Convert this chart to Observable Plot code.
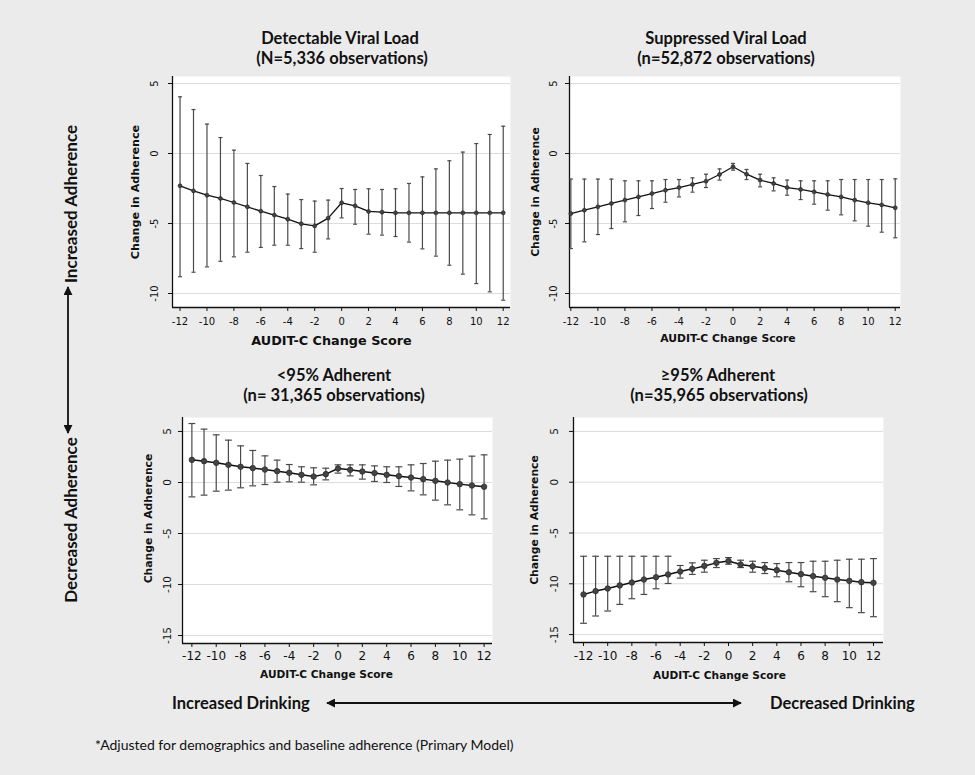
<!DOCTYPE html>
<html><head><meta charset="utf-8">
<script src="https://cdn.jsdelivr.net/npm/d3@7"></script>
<script src="https://cdn.jsdelivr.net/npm/@observablehq/plot@0.6"></script>
<style>
html,body{margin:0;padding:0;}
body{width:975px;height:775px;background:#ebebeb;position:relative;overflow:hidden;font-family:Lato,"Open Sans",sans-serif;color:#111;}
.ttl{position:absolute;transform:translate(-50%,-50%);white-space:nowrap;font-weight:bold;font-size:16.5px;color:#111;line-height:1;}
.rot{position:absolute;transform:translate(-50%,-50%) rotate(-90deg);white-space:nowrap;font-weight:bold;font-size:17px;color:#111;line-height:1;}
.side{position:absolute;transform:translate(0,-50%);white-space:nowrap;font-weight:bold;font-size:16.5px;color:#111;line-height:1;}
.panel{position:absolute;}
.cap{position:absolute;white-space:nowrap;font-size:14px;color:#111;line-height:1;transform:translate(0,-50%);}
</style></head><body>
<script>
// AUDIT-C change score categories
const audit = [-12,-11,-10,-9,-8,-7,-6,-5,-4,-3,-2,-1,0,1,2,3,4,5,6,7,8,9,10,11,12];
const xTickValues = [-12,-10,-8,-6,-4,-2,0,2,4,6,8,10,12];
const yTicksTop = [5,0,-5,-10];
const yTicksBottom = [5,0,-5,-10,-15];

// Detectable Viral Load (N=5,336)
const detMean = [-2.31,-2.67,-2.98,-3.21,-3.50,-3.81,-4.12,-4.40,-4.69,-5.02,-5.17,-4.62,-3.52,-3.74,-4.14,-4.19,-4.24,-4.24,-4.24,-4.24,-4.24,-4.24,-4.24,-4.24,-4.24];
const detHi   = [4.05,3.14,2.10,1.14,0.24,-0.71,-1.57,-2.36,-2.90,-3.29,-3.40,-3.33,-2.50,-2.57,-2.52,-2.57,-2.52,-2.14,-1.67,-1.10,-0.52,0.10,0.71,1.36,1.95];
const detLo   = [-8.80,-8.48,-8.10,-7.70,-7.38,-7.05,-6.71,-6.55,-6.55,-6.79,-7.05,-6.10,-4.60,-5.05,-5.76,-5.83,-5.93,-6.33,-6.81,-7.33,-7.98,-8.62,-9.29,-9.88,-10.48];

// Suppressed Viral Load (n=52,872)
const supMean = [-4.29,-4.05,-3.81,-3.57,-3.33,-3.10,-2.86,-2.62,-2.43,-2.21,-1.98,-1.50,-0.95,-1.48,-1.90,-2.14,-2.43,-2.57,-2.74,-2.93,-3.10,-3.33,-3.52,-3.67,-3.88];
const supHi   = [-1.83,-1.83,-1.83,-1.83,-1.95,-1.95,-1.95,-1.86,-1.86,-1.74,-1.48,-1.10,-0.71,-1.14,-1.48,-1.74,-1.90,-1.95,-1.95,-1.95,-1.86,-1.86,-1.86,-1.86,-1.81];
const supLo   = [-6.79,-6.31,-5.79,-5.36,-4.88,-4.43,-3.93,-3.48,-3.10,-2.76,-2.43,-1.90,-1.19,-1.86,-2.38,-2.67,-2.98,-3.29,-3.62,-4.05,-4.38,-4.81,-5.19,-5.62,-6.02];

// <95% Adherent (n=31,365)
const lowMean = [2.22,2.09,1.93,1.73,1.54,1.41,1.27,1.11,0.95,0.75,0.59,0.82,1.37,1.24,1.08,0.92,0.75,0.62,0.49,0.33,0.16,0.00,-0.16,-0.29,-0.42];
const lowHi   = [5.78,5.23,4.67,4.15,3.59,3.14,2.61,2.19,1.76,1.54,1.44,1.40,1.73,1.73,1.73,1.63,1.54,1.54,1.73,1.86,2.09,2.19,2.29,2.58,2.71];
const lowLo   = [-1.41,-1.24,-0.85,-0.75,-0.52,-0.33,-0.20,0.03,0.07,0.03,-0.23,0.26,0.92,0.65,0.33,0.10,0.00,-0.39,-0.82,-1.21,-1.73,-2.19,-2.68,-3.17,-3.56];

// >=95% Adherent (n=35,965)
const highMean = [-11.05,-10.72,-10.46,-10.16,-9.87,-9.58,-9.35,-9.08,-8.79,-8.53,-8.24,-7.94,-7.75,-8.10,-8.27,-8.46,-8.66,-8.86,-9.05,-9.25,-9.41,-9.58,-9.71,-9.84,-9.90];
const highHi   = [-7.29,-7.29,-7.29,-7.29,-7.29,-7.29,-7.29,-7.29,-8.20,-7.94,-7.68,-7.52,-7.42,-7.68,-7.78,-7.91,-8.01,-7.91,-7.91,-7.78,-7.78,-7.68,-7.58,-7.58,-7.52];
const highLo   = [-13.89,-13.17,-12.68,-12.03,-11.47,-11.05,-10.49,-9.97,-9.44,-9.08,-8.86,-8.40,-8.07,-8.40,-8.86,-8.99,-9.31,-9.80,-10.29,-10.78,-11.27,-11.76,-12.35,-12.84,-13.24];

const titles = [
  ["Detectable Viral Load", "(N=5,336 observations)"],
  ["Suppressed Viral Load", "(n=52,872 observations)"],
  ["<95% Adherent", "(n= 31,365 observations)"],
  ["\u226595% Adherent", "(n=35,965 observations)"]
];
const yLabel = "Change in Adherence";
const xLabel = "AUDIT-C Change Score";
const sideLabels = ["Increased Adherence", "Decreased Adherence"];
const bottomLabels = ["Increased Drinking", "Decreased Drinking"];
const caption = "*Adjusted for demographics and baseline adherence  (Primary Model)";

const TICKFONT = "DejaVu Sans, Verdana, sans-serif";

function makePanel(cfg, mean, lo, hi) {
  const data = audit.map((x, i) => ({x, m: mean[i], lo: lo[i], hi: hi[i]}));
  const chart = Plot.plot({
    width: cfg.width, height: cfg.height,
    marginLeft: cfg.ml, marginTop: cfg.mt, marginRight: cfg.mr, marginBottom: cfg.mb,
    style: {background: "transparent", overflow: "visible", color: "#111"},
    x: {domain: cfg.xdom},
    y: {domain: cfg.ydom},
    marks: [
      Plot.frame({fill: "white", stroke: "none"}),
      Plot.gridY({ticks: cfg.yticks, stroke: "#dcdcdc", strokeOpacity: 1, strokeWidth: 1}),
      Plot.ruleX([cfg.xdom[0]], {stroke: "#111", strokeWidth: 1.3}),
      Plot.ruleY([cfg.ydom[0]], {stroke: "#111", strokeWidth: 1.3}),
      Plot.axisY({ticks: cfg.yticks, tickRotate: -90, tickSize: 4, tickPadding: cfg.ytp,
        tickFormat: d => String(d), label: null, fontSize: cfg.ytf, fontFamily: TICKFONT}),
      Plot.axisX({ticks: xTickValues, tickSize: 4, tickPadding: cfg.xtp,
        tickFormat: d => String(d), label: null, fontSize: cfg.xtf, fontFamily: TICKFONT}),
      Plot.text([yLabel], {frameAnchor: "left", rotate: -90, textAnchor: "middle", lineAnchor: "middle",
        dx: cfg.yldx, dy: cfg.yldy,
        fontWeight: "bold", fontSize: cfg.ylf, fontFamily: TICKFONT, fill: "#111"}),
      Plot.text([xLabel], {frameAnchor: "bottom", textAnchor: "middle", lineAnchor: "middle",
        dx: cfg.xldx, dy: cfg.xldy,
        fontWeight: "bold", fontSize: cfg.xlf, fontFamily: TICKFONT, fill: "#111"}),
      Plot.ruleX(data, {x: "x", y1: "lo", y2: "hi", stroke: "#4a4a4a", strokeWidth: 1.2}),
      Plot.link(data, {x1: d => d.x - cfg.cap, x2: d => d.x + cfg.cap, y1: "hi", y2: "hi", stroke: "#4a4a4a", strokeWidth: 1.2}),
      Plot.link(data, {x1: d => d.x - cfg.cap, x2: d => d.x + cfg.cap, y1: "lo", y2: "lo", stroke: "#4a4a4a", strokeWidth: 1.2}),
      Plot.line(data, {x: "x", y: "m", stroke: "#111", strokeWidth: cfg.lw}),
      Plot.dot(data, {x: "x", y: "m", r: cfg.r, fill: "#444", stroke: "#222", strokeWidth: 0.6})
    ]
  });
  const div = document.createElement("div");
  div.className = "panel";
  div.style.left = cfg.left + "px";
  div.style.top = cfg.top + "px";
  div.appendChild(chart);
  document.body.appendChild(div);
}

const panels = [
  {left: 100, top: 60, width: 430, height: 300, ml: 72, mt: 16, mr: 20, mb: 53,
   xdom: [-12.56, 12.54], ydom: [-11, 5.5], yticks: yTicksTop, ytp: 11, ytf: 10, xtp: 6, xtf: 10,
   yldx: -37, yldy: 0, ylf: 11.2, xldx: -10, xldy: 33, xlf: 12.8, cap: 0.15, r: 2, lw: 1.3},
  {left: 500, top: 60, width: 430, height: 300, ml: 69, mt: 16, mr: 30, mb: 53,
   xdom: [-12.1, 12.39], ydom: [-11, 5.5], yticks: yTicksTop, ytp: 8.5, ytf: 10, xtp: 6, xtf: 10,
   yldx: -34, yldy: 0, ylf: 10.8, xldx: -7, xldy: 31, xlf: 10.8, cap: 0.15, r: 2, lw: 1.3},
  {left: 100, top: 400, width: 430, height: 300, ml: 82, mt: 17, mr: 38, mb: 57,
   xdom: [-12.77, 12.69], ydom: [-15.78, 6.37], yticks: yTicksBottom, ytp: 8, ytf: 10.5, xtp: 4, xtf: 12,
   yldx: -34, yldy: -12, ylf: 10.8, xldx: -11, xldy: 31, xlf: 10.6, cap: 0.28, r: 2.8, lw: 1.5},
  {left: 500, top: 400, width: 430, height: 300, ml: 73, mt: 17, mr: 47, mb: 58,
   xdom: [-12.83, 12.83], ydom: [-15.78, 6.37], yticks: yTicksBottom, ytp: 12, ytf: 10.5, xtp: 4.5, xtf: 12,
   yldx: -39, yldy: -10, ylf: 10.8, xldx: -9, xldy: 33, xlf: 10.6, cap: 0.28, r: 2.8, lw: 1.5}
];

makePanel(panels[0], detMean, detLo, detHi);
makePanel(panels[1], supMean, supLo, supHi);
makePanel(panels[2], lowMean, lowLo, lowHi);
makePanel(panels[3], highMean, highLo, highHi);

// Titles
const titlePos = [[340, 38, 342, 58], [726, 38, 726, 58], [334, 375, 334, 395], [718, 375, 719, 395]];
titles.forEach((t, i) => {
  const p = titlePos[i];
  [0, 1].forEach(k => {
    const d = document.createElement("div");
    d.className = "ttl";
    d.textContent = t[k];
    d.style.left = p[k * 2] + "px";
    d.style.top = p[k * 2 + 1] + "px";
    document.body.appendChild(d);
  });
});

// Side (vertical) labels
[[70, 204], [70, 520]].forEach((p, i) => {
  const d = document.createElement("div");
  d.className = "rot";
  d.textContent = sideLabels[i];
  d.style.left = p[0] + "px";
  d.style.top = p[1] + "px";
  document.body.appendChild(d);
});

// Bottom labels
[[172, 703], [770, 703]].forEach((p, i) => {
  const d = document.createElement("div");
  d.className = "side";
  d.textContent = bottomLabels[i];
  d.style.left = p[0] + "px";
  d.style.top = p[1] + "px";
  document.body.appendChild(d);
});

// Caption
const c = document.createElement("div");
c.className = "cap";
c.textContent = caption;
c.style.left = "95px";
c.style.top = "745px";
document.body.appendChild(c);

// Double-headed arrows (decoration)
const svg = d3.select(document.body).append("svg")
  .attr("width", 975).attr("height", 775)
  .style("position", "absolute").style("left", 0).style("top", 0).style("pointer-events", "none");
const defs = svg.append("defs");
defs.append("marker").attr("id", "ah").attr("viewBox", "0 0 10 10").attr("refX", 9).attr("refY", 5)
  .attr("markerWidth", 5).attr("markerHeight", 5).attr("orient", "auto-start-reverse").attr("markerUnits", "strokeWidth")
  .append("path").attr("d", "M0,0 L10,5 L0,10 z").attr("fill", "#111");
svg.append("line").attr("x1", 68).attr("x2", 68).attr("y1", 287).attr("y2", 433)
  .attr("stroke", "#111").attr("stroke-width", 1.8)
  .attr("marker-start", "url(#ah)").attr("marker-end", "url(#ah)");
svg.append("line").attr("x1", 327).attr("x2", 741).attr("y1", 703).attr("y2", 703)
  .attr("stroke", "#111").attr("stroke-width", 1.8)
  .attr("marker-start", "url(#ah)").attr("marker-end", "url(#ah)");
</script>
</body></html>
